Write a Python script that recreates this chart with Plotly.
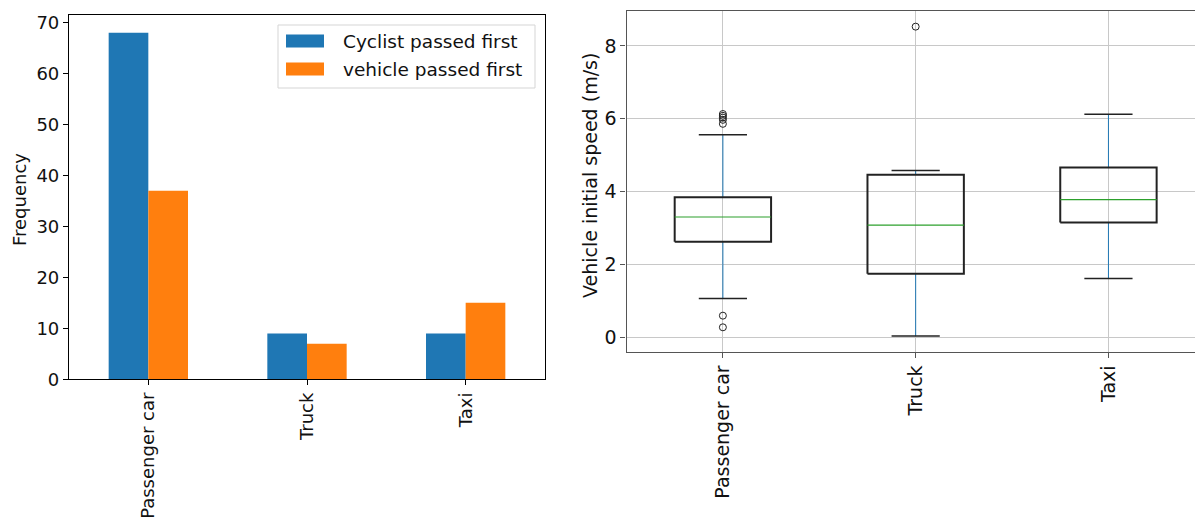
import plotly.graph_objects as go

# ---- Data ----
vehicle_types = ["Passenger car", "Truck", "Taxi"]
cyclist_first = [68, 9, 9]
vehicle_first = [37, 7, 15]
series_names = ["Cyclist passed first", "vehicle passed first"]
series_colors = ["#1f77b4", "#ff7f0e"]

# box statistics of vehicle initial speed (m/s)
speed_q1 = [2.62, 1.74, 3.15]
speed_median = [3.30, 3.08, 3.78]
speed_q3 = [3.84, 4.46, 4.66]
speed_low_whisker = [1.06, 0.03, 1.61]
speed_high_whisker = [5.56, 4.58, 6.12]
outlier_values = [
    [6.13, 6.08, 6.03, 5.97, 5.86, 0.59, 0.27],
    [8.53],
    [],
]

W, H = 1195, 525
FONT = "DejaVu Sans"

fig = go.Figure()

# ---- Left: grouped bars ----
for vals, name, col in zip([cyclist_first, vehicle_first], series_names, series_colors):
    fig.add_trace(go.Bar(x=vehicle_types, y=vals, name=name,
                         marker=dict(color=col, line=dict(width=0)),
                         showlegend=False, xaxis="x", yaxis="y"))

# ---- Right: box plot drawn from stats ----
positions = [i + 1 for i in range(len(vehicle_types))]
half_box = 0.25
half_cap = 0.125

bx, by = [], []
wx, wy = [], []
cx, cy = [], []
mx, my = [], []
ox, oy = [], []
for p, q1, med, q3, lo, hi, outs in zip(positions, speed_q1, speed_median, speed_q3,
                                        speed_low_whisker, speed_high_whisker, outlier_values):
    bx += [p - half_box, p + half_box, p + half_box, p - half_box, p - half_box, None]
    by += [q1, q1, q3, q3, q1, None]
    wx += [p, p, None, p, p, None]
    wy += [q1, lo, None, q3, hi, None]
    cx += [p - half_cap, p + half_cap, None, p - half_cap, p + half_cap, None]
    cy += [lo, lo, None, hi, hi, None]
    mx += [p - half_box, p + half_box, None]
    my += [med, med, None]
    for v in outs:
        ox.append(p)
        oy.append(v)

fig.add_trace(go.Scatter(x=wx, y=wy, mode="lines", line=dict(color="#1f77b4", width=1),
                         showlegend=False, hoverinfo="skip", xaxis="x2", yaxis="y2"))
fig.add_trace(go.Scatter(x=cx, y=cy, mode="lines", line=dict(color="#222", width=1.5),
                         showlegend=False, hoverinfo="skip", xaxis="x2", yaxis="y2"))
fig.add_trace(go.Scatter(x=bx, y=by, mode="lines", line=dict(color="#222", width=2),
                         showlegend=False, hoverinfo="skip", xaxis="x2", yaxis="y2"))
fig.add_trace(go.Scatter(x=mx, y=my, mode="lines", line=dict(color="#2ca02c", width=1.2),
                         showlegend=False, hoverinfo="skip", xaxis="x2", yaxis="y2"))
fig.add_trace(go.Scatter(x=ox, y=oy, mode="markers",
                         marker=dict(symbol="circle-open", size=7, color="#222", line=dict(width=1)),
                         showlegend=False, xaxis="x2", yaxis="y2"))

# ---- Layout ----
def px_x(v):
    return v / W

def px_y(v):
    return 1 - v / H

# manual legend (matplotlib style)
shapes = [dict(type="rect", xref="paper", yref="paper",
               x0=px_x(278), x1=px_x(535), y0=px_y(88), y1=px_y(25),
               line=dict(color="#d5d5d5", width=1), fillcolor="rgba(255,255,255,0.8)", layer="above")]
annotations = []
for k, (name, col) in enumerate(zip(series_names, series_colors)):
    yc = 41 + 28 * k
    shapes.append(dict(type="rect", xref="paper", yref="paper",
                       x0=px_x(286), x1=px_x(324), y0=px_y(yc + 6.5), y1=px_y(yc - 6.5),
                       line=dict(width=0), fillcolor=col, layer="above"))
    annotations.append(dict(text=name, x=px_x(341), y=px_y(yc), xref="paper", yref="paper",
                            showarrow=False, xanchor="left", yanchor="middle",
                            font=dict(size=18.5, family=FONT, color="#111")))

annotations += [
    dict(text="Frequency", textangle=-90, x=px_x(19), y=px_y(200),
         xref="paper", yref="paper", showarrow=False, xanchor="center", yanchor="middle",
         font=dict(size=18, family=FONT, color="#111")),
    dict(text="Vehicle initial speed (m/s)", textangle=-90, x=px_x(590), y=px_y(176),
         xref="paper", yref="paper", showarrow=False, xanchor="center", yanchor="middle",
         font=dict(size=19, family=FONT, color="#111")),
]

fig.update_layout(
    width=W, height=H,
    margin=dict(l=0, r=0, t=0, b=0, autoexpand=False),
    paper_bgcolor="white", plot_bgcolor="white",
    font=dict(family=FONT, size=18, color="#111"),
    barmode="group", bargap=0.5, bargroupgap=0,
    showlegend=False,
    xaxis=dict(domain=[px_x(69), px_x(545)], range=[-0.5, 2.5], automargin=False,
               showline=True, linecolor="#000", linewidth=1.2, mirror=True,
               ticks="outside", ticklen=5, tickcolor="#000", tickangle=-90,
               tickfont=dict(size=18), anchor="y"),
    yaxis=dict(domain=[px_y(379.3), px_y(15)], range=[0, 71.5], automargin=False,
               tickvals=[0, 10, 20, 30, 40, 50, 60, 70],
               showline=True, linecolor="#000", linewidth=1.2, mirror=True,
               ticks="outside", ticklen=5, tickcolor="#000", showgrid=False, zeroline=False,
               tickfont=dict(size=18), anchor="x"),
    xaxis2=dict(domain=[px_x(626.5), 1.0], range=[0.5, 3.449], automargin=False,
                tickvals=positions, ticktext=vehicle_types,
                showline=True, linecolor="#555", linewidth=1.2, mirror=True,
                ticks="outside", ticklen=5, tickcolor="#555", tickangle=-90,
                showgrid=True, gridcolor="#c8c8c8", gridwidth=1, zeroline=False,
                tickfont=dict(size=19), anchor="y2"),
    yaxis2=dict(domain=[px_y(351.7), px_y(11)], range=[-0.4, 8.96], automargin=False,
                tickvals=[0, 2, 4, 6, 8],
                showline=True, linecolor="#555", linewidth=1.2, mirror=True,
                ticks="outside", ticklen=5, tickcolor="#555",
                showgrid=True, gridcolor="#c8c8c8", gridwidth=1, zeroline=False,
                tickfont=dict(size=19), anchor="x2"),
    shapes=shapes,
    annotations=annotations,
)

fig.write_html("out.html", config={"displayModeBar": False},
               post_script="document.body.style.margin='0px';")
